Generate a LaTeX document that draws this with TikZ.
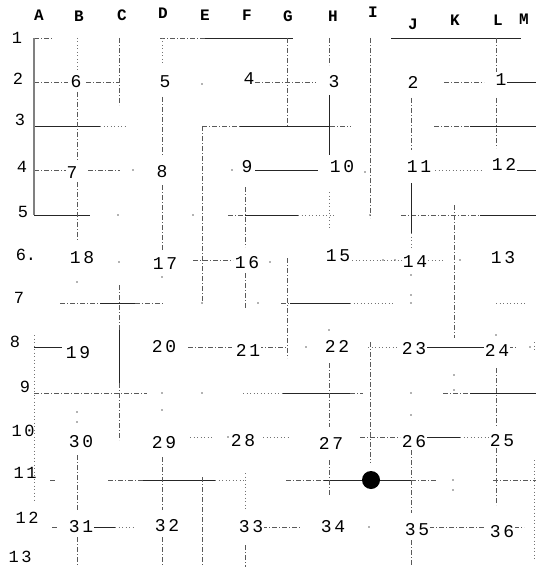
\documentclass[tikz,border=0pt]{standalone}
\usepackage{fontspec}
\newfontfamily\mono[LetterSpace=15]{Liberation Mono}
\newfontfamily\monotight{Liberation Mono}
\begin{document}
\begin{tikzpicture}[x=1pt,y=-1pt,
  s/.style={draw=black!85,line width=0.9pt},
  d/.style={draw=black!65,line width=0.8pt,dash pattern=on 5pt off 2pt on 1pt off 2pt},
  o/.style={draw=black!55,line width=0.7pt,dash pattern=on 1pt off 2.5pt},
  thk/.style={draw=black!50,line width=1.4pt},
  lbl/.style={font=\monotight\bfseries\fontsize{16}{16}\selectfont,inner sep=1pt},
  rlbl/.style={font=\mono\fontsize{17}{17}\selectfont,inner sep=1pt},
  num/.style={font=\mono\fontsize{18}{18}\selectfont,inner sep=1pt,fill=white},
  pt/.style={fill=black!60}]
\useasboundingbox (0,0) rectangle (536,567);
% ---------- horizontal walls ----------
\draw[d] (34,38) -- (52,38);
\draw[d] (160,38) -- (205,38); \draw[s] (205,38) -- (293,38);
\draw[s] (391,38) -- (521,38);
% row 2
\draw[d] (34,82) -- (68,82); \draw[d] (86,82) -- (119,82);
\draw[d] (255,82) -- (316,82); \draw[d] (444,82) -- (484,82); \draw[s] (507,82) -- (536,82);
% row 3
\draw[s] (34,126) -- (100,126); \draw[o] (100,126) -- (125,126);
\draw[d] (202,126) -- (240,126); \draw[s] (240,126) -- (330,126); \draw[d] (330,126) -- (351,126);
\draw[d] (434,126) -- (470,126); \draw[s] (470,126) -- (536,126);
% row 4
\draw[d] (34,170) -- (66,170); \draw[d] (88,170) -- (120,170);
\draw[s] (255,170) -- (318,170);
\draw[o] (435,170) -- (484,170); \draw[s] (509,170) -- (536,170);
% row 5
\draw[s] (34,215) -- (90,215);
\draw[d] (228,215) -- (245,215); \draw[s] (245,215) -- (298,215); \draw[o] (298,215) -- (335,215);
\draw[d] (401,215) -- (480,215); \draw[s] (480,215) -- (536,215);
% row 6
\draw[d] (193,260) -- (233,260);
\draw[o] (345,260) -- (405,260); \draw[o] (428,260) -- (445,260);
% row 7
\draw[d] (60,303) -- (100,303); \draw[s] (100,303) -- (135,303); \draw[d] (135,303) -- (163,303);
\draw[d] (281,303) -- (290,303); \draw[s] (290,303) -- (350,303); \draw[o] (350,303) -- (393,303);
\draw[o] (496,303) -- (526,303);
% row 8
\draw[s] (34,347) -- (62,347);
\draw[d] (188,347) -- (232,347); \draw[d] (258,347) -- (287,347);
\draw[o] (368,347) -- (399,347); \draw[s] (426,347) -- (484,347); \draw[d] (508,347) -- (516,347);
% row 9
\draw[d] (34,393) -- (147,393);
\draw[o] (243,393) -- (283,393); \draw[s] (283,393) -- (350,393); \draw[d] (350,393) -- (363,393);
\draw[d] (443,393) -- (470,393); \draw[s] (470,393) -- (536,393);
% row 10
\draw[o] (190,437) -- (212,437); \draw[o] (263,437) -- (288,437);
\draw[d] (360,437) -- (400,437); \draw[s] (425,437) -- (460,437); \draw[o] (460,437) -- (490,437);
% row 11
\draw[d] (50,480) -- (56,480);
\draw[d] (108,480) -- (143,480); \draw[s] (143,480) -- (215,480); \draw[o] (215,480) -- (245,480);
\draw[d] (286,480) -- (324,480); \draw[s] (324,480) -- (411,480); \draw[d] (411,480) -- (436,480);
\draw[d] (493,480) -- (536,480);
% row 12
\draw[d] (52,527) -- (58,527); \draw[s] (90,527) -- (115,527); \draw[o] (115,527) -- (135,527);
\draw[d] (262,527) -- (300,527);
\draw[d] (429,527) -- (484,527); \draw[d] (514,527) -- (524,527);
% ---------- vertical walls ----------
\draw[thk] (34,38) -- (34,215);
\draw[o] (34,335) -- (34,503);
\draw[o] (77,38) -- (77,72); \draw[d] (77,92) -- (77,160); \draw[d] (77,182) -- (77,240);
\draw[d] (77,455) -- (77,510); \draw[d] (77,537) -- (77,567);
\draw[d] (119,38) -- (119,105);
\draw[d] (119,285) -- (119,330); \draw[s] (119,330) -- (119,383); \draw[d] (119,383) -- (119,440);
\draw[o] (162,38) -- (162,65); \draw[d] (162,97) -- (162,155); \draw[d] (162,185) -- (162,250);
\draw[d] (162,457) -- (162,510); \draw[d] (162,537) -- (162,567);
\draw[d] (202,126) -- (202,303); \draw[d] (202,477) -- (202,567);
\draw[d] (245,187) -- (245,247); \draw[d] (245,273) -- (245,308);
\draw[o] (245,473) -- (245,510); \draw[d] (245,545) -- (245,567);
\draw[d] (287,38) -- (287,126); \draw[d] (287,258) -- (287,358);
\draw[d] (329,38) -- (329,65); \draw[s] (329,95) -- (329,155); \draw[o] (329,192) -- (329,230);
\draw[d] (329,363) -- (329,427); \draw[d] (329,460) -- (329,495);
\draw[d] (370,38) -- (370,218); \draw[d] (370,342) -- (370,463);
\draw[d] (411,98) -- (411,150); \draw[s] (411,183) -- (411,233); \draw[o] (411,233) -- (411,250);
\draw[d] (411,450) -- (411,513); \draw[d] (411,540) -- (411,567);
\draw[d] (454,205) -- (454,338);
\draw[d] (496,38) -- (496,72); \draw[d] (496,98) -- (496,148);
\draw[d] (496,368) -- (496,427); \draw[d] (496,448) -- (496,505);
\draw[o] (534,342) -- (534,352); \draw[o] (534,460) -- (534,560);
% ---------- loose dots ----------
\foreach \p in {(202,84),(133,170),(232,170),(365,172),(118,215),(193,215),(370,215),
  (119,262),(162,277),(411,275),(411,295),(460,260),(383,260),(395,260),(270,262),(77,282),
  (202,303),(258,303),(411,303),
  (306,347),(530,347),(162,393),(202,393),(411,393),(162,410),(411,415),(77,412),(77,422),
  (454,375),(454,390),(453,480),(453,490),(369,527),(329,330),(496,335),(228,437)}
  \fill[pt] \p circle (0.9);
% ---------- column and row labels ----------
\foreach \t/\x/\y in {A/39/15,B/79/16,C/122/15,D/163/13,E/205/15,F/247/15,G/288/16,
  H/333/16,I/373/12,J/413/24,K/455/20,L/498/20,M/524/19}
  \node[lbl] (col\t) at (\x,\y) {\t};
\foreach \t/\x/\y in {1/17/38,2/18/79,3/20/120,4/22/167,5/23/212,7/19/298,
  8/15/342,9/25/387,10/23/431,11/25/473,12/27/518,13/20/557}
  \node[rlbl] (row\t) at (\x,\y) {\t};
\node[lbl,font=\monotight\fontsize{17}{17}\selectfont] (row6) at (26,255) {6.};
% ---------- numbered cells ----------
\foreach \t/\x/\y in {6/76/82,5/165/82,4/249/79,3/334/82,2/413/82,1/501/80,
  7/72/173,8/162/172,9/247/167,10/342/167,11/419/167,12/504/164,
  18/82/258,17/165/264,16/247/263,15/338/256,14/415/262,13/503/258,
  19/78/353,20/164/347,21/248/350,22/337/346,23/414/349,24/497/350,
  30/81/442,29/164/443,28/243/441,27/331/443,26/414/442,25/502/441,
  31/81/527,32/167/526,33/251/527,34/333/527,35/417/530,36/502/532}
  \node[num] (n\t) at (\x,\y) {\t};
% ---------- marker ----------
\fill[black] (371,480) circle (9);
\end{tikzpicture}
\end{document}
